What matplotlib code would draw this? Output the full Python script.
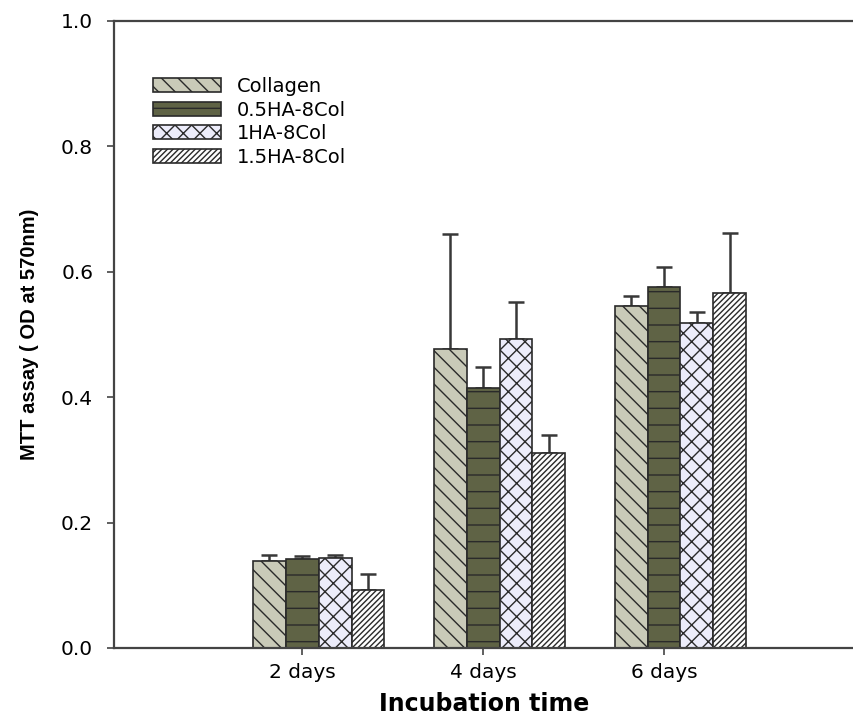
import numpy as np
import matplotlib
matplotlib.use('Agg')
import matplotlib.pyplot as plt

plt.rcParams['font.family'] = ['DejaVu Sans']
plt.rcParams['hatch.linewidth'] = 1.0

days = ['2 days', '4 days', '6 days']
series = ['Collagen', '0.5HA-8Col', '1HA-8Col', '1.5HA-8Col']

collagen = [0.138, 0.477, 0.545]
ha05 = [0.142, 0.415, 0.576]
ha10 = [0.143, 0.493, 0.518]
ha15 = [0.092, 0.311, 0.566]

collagen_err = [0.010, 0.183, 0.016]
ha05_err = [0.004, 0.033, 0.032]
ha10_err = [0.006, 0.059, 0.018]
ha15_err = [0.026, 0.029, 0.096]

values = [collagen, ha05, ha10, ha15]
errors = [collagen_err, ha05_err, ha10_err, ha15_err]
fills = ['#c9cab8', '#5f6345', '#ececfa', '#ffffff']
hatches = ['\\\\', '-', 'xx', '//////']

fig = plt.figure(figsize=(8.54, 7.16), dpi=100)
ax = fig.add_axes([0.1335, 0.095, 0.8665, 0.876])

x = np.arange(len(days))
w = 0.182
for k in range(4):
    xs = x + (k - 1) * w
    ax.bar(xs, values[k], w, color=fills[k], edgecolor='#2a2a2a', linewidth=1.2,
           hatch=hatches[k], label=series[k], zorder=2)
    ax.errorbar(xs, values[k], yerr=[np.zeros(3), errors[k]], fmt='none',
                ecolor='#383838', elinewidth=1.8, capsize=6, capthick=1.8, zorder=1)

ax.set_xlim(-1.04, 3.05)
ax.set_ylim(0, 1.0)
ax.set_xticks(x)
ax.set_xticklabels(days, fontsize=14.5)
ax.set_yticks(np.arange(0, 1.01, 0.2))
ax.set_yticklabels(['%.1f' % v for v in np.arange(0, 1.01, 0.2)], fontsize=14.5)
ax.tick_params(direction='out', length=5, width=1.2, colors='#444444', labelcolor='black', pad=6)
ax.tick_params(axis='y', pad=10)
ax.spines['right'].set_visible(False)
for s in ['left', 'bottom', 'top']:
    ax.spines[s].set_color('#444444')
    ax.spines[s].set_linewidth(1.6)

ax.set_xlabel('Incubation time', fontsize=17, fontweight='bold', labelpad=7)
ax.set_ylabel('MTT assay ( OD at 570nm)', fontsize=14.5, fontweight='bold',
              family=['Liberation Sans', 'DejaVu Sans'], labelpad=16)

ax.legend(loc='upper left', bbox_to_anchor=(0.053, 0.91), frameon=False, fontsize=14,
          handlelength=3.5, handleheight=0.72, labelspacing=0.23, handletextpad=0.82,
          borderpad=0, borderaxespad=0)

fig.savefig('out.png', dpi=100)
